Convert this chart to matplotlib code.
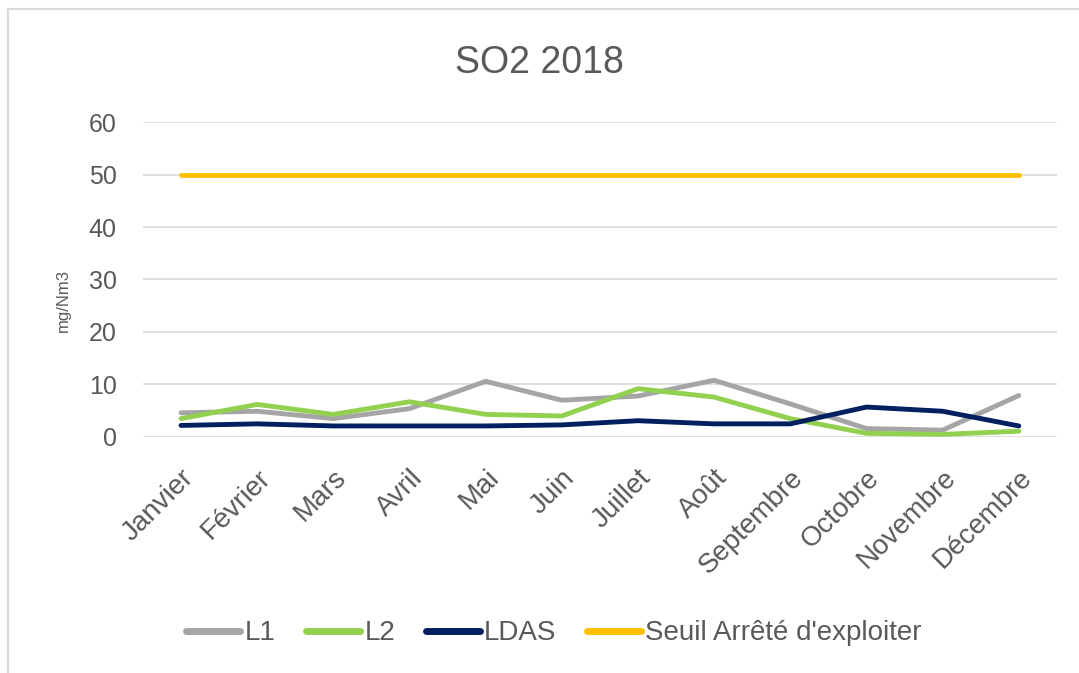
import matplotlib.pyplot as plt
from matplotlib.lines import Line2D

# mesures mensuelles SO2 (mg/Nm3)
mois = ["Janvier", "Février", "Mars", "Avril", "Mai", "Juin", "Juillet",
        "Août", "Septembre", "Octobre", "Novembre", "Décembre"]
l1 = [4.6, 4.9, 3.5, 5.4, 10.6, 7.0, 7.8, 10.8, 6.3, 1.6, 1.3, 7.9]
l2 = [3.5, 6.2, 4.3, 6.7, 4.3, 4.0, 9.2, 7.6, 3.5, 0.7, 0.5, 1.1]
ldas = [2.2, 2.5, 2.1, 2.1, 2.1, 2.3, 3.1, 2.5, 2.5, 5.7, 4.9, 2.1]
seuil = [50] * 12

texte = "#595959"
police = "Liberation Sans"

fig = plt.figure(figsize=(10.79, 6.73), dpi=100)
ax = fig.add_axes([0.1325, 0.3507, 0.847, 0.468])

x = range(len(mois))
ax.plot(x, l1, color="#a5a5a5", lw=3.5, label="L1", solid_capstyle="round")
ax.plot(x, l2, color="#92d050", lw=3.5, label="L2", solid_capstyle="round")
ax.plot(x, ldas, color="#002060", lw=3.5, label="LDAS", solid_capstyle="round")
ax.plot(x, seuil, color="#ffc000", lw=3.5, label="Seuil Arrêté d'exploiter",
        solid_capstyle="round")

ax.set_xlim(-0.5, 11.5)
ax.set_ylim(0, 60)
ax.set_yticks(range(0, 61, 10))
ax.grid(axis="y", color="#d9d9d9", lw=1.2)
ax.set_axisbelow(True)
for s in ax.spines.values():
    s.set_visible(False)
ax.tick_params(length=0, colors=texte)
ax.tick_params(axis="y", pad=19)

ax.set_xticks(list(x))
ax.set_xticklabels(mois, rotation=45, ha="right", va="top",
                   rotation_mode="anchor", fontsize=20, family=police,
                   color=texte)
ax.tick_params(axis="x", pad=20)
for lab in ax.get_yticklabels():
    lab.set_fontsize(18)
    lab.set_family(police)

fig.text(0.0584, 0.553, "mg/Nm3", rotation=90, ha="center", va="center",
         fontsize=12, color=texte, family=police)
fig.text(0.5, 0.906, "SO2 2018", ha="center", va="center", fontsize=27,
         color=texte, family=police)

poignees = [Line2D([], [], color=l.get_color(), lw=5, solid_capstyle="round")
            for l in ax.get_lines()]
fig.legend(poignees, [l.get_label() for l in ax.get_lines()],
           loc="center", bbox_to_anchor=(554 / 1079, 0.059), ncol=4,
           frameon=False, handlelength=1.95, handletextpad=0.15,
           columnspacing=1.1, prop={"family": police, "size": 20},
           labelcolor=texte)

# cadre du graphique
fig.add_artist(Line2D([8 / 1079, 1], [1 - 9 / 673, 1 - 9 / 673],
                      transform=fig.transFigure, color="#d9d9d9", lw=1.5))
fig.add_artist(Line2D([8 / 1079, 8 / 1079], [0, 1 - 9 / 673],
                      transform=fig.transFigure, color="#d9d9d9", lw=1.5))

fig.savefig("out.png", dpi=100)
